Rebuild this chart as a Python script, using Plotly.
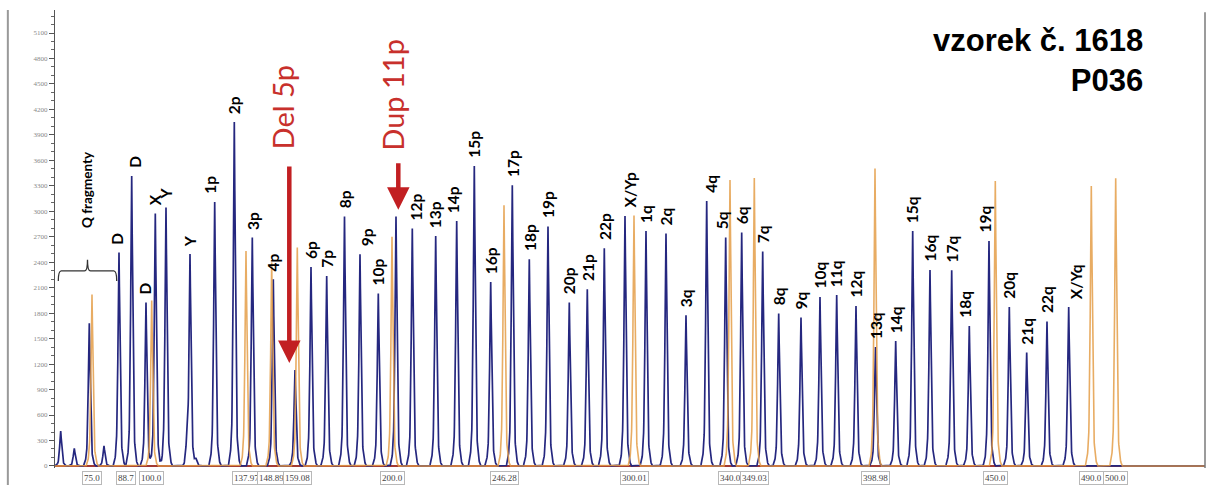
import numpy as np
import plotly.graph_objects as go

# ---------------- data ----------------
# Blue channel (sample probes): scan position, peak height (RFU), probe name
probe_pos = [5.7, 19.3, 34.3, 49.0, 64.0, 76.7, 91.0, 100.3, 111.0, 131.7, 135.0, 141.0,
             159.7, 179.3, 197.3, 218.3, 240.0, 256.0, 271.7, 289.5, 305.0, 323.3,
             341.0, 357.3, 380.7, 401.7, 419.3, 435.7, 457.3, 474.3, 493.0, 514.3,
             532.3, 549.3, 570.0,
             591.0, 611.0, 631.0, 651.7, 670.7, 686.7, 707.7, 723.7, 746.0, 765.0,
             781.7, 801.0, 820.5, 840.7, 857.7, 875.0, 896.7, 914.3, 934.0, 954.3,
             971.7, 992.0, 1013.7]
probe_height = [412, 208, 1680, 236, 2513, 3416, 1925, 2973, 3044, 220, 2482, 90,
                3110, 4052, 2690, 2199, 1131, 2344, 2238, 2937, 2493, 2030,
                2937, 2796, 2709, 2886, 3534, 2167, 3306, 2435, 2820, 1925,
                2081, 2564, 2945,
                2768, 2737, 1775, 3121, 2690, 2749, 2525, 1795, 1748, 1991,
                2014, 1885, 1400, 1472, 2768, 2309, 2305, 1649, 2650, 1873,
                1336, 1701, 1873]
probe_name = ["", "", "", "", "D", "D", "D", "X", "Y", "", "Y", "",
              "1p", "2p", "3p", "4p", "5p", "6p", "7p", "8p", "9p", "10p",
              "11p", "12p", "13p", "14p", "15p", "16p", "17p", "18p", "19p", "20p",
              "21p", "22p", "X/Yp",
              "1q", "2q", "3q", "4q", "5q", "6q", "7q", "8q", "9q", "10q",
              "11q", "12q", "13q", "14q", "15q", "16q", "17q", "18q", "19q", "20q",
              "21q", "22q", "X/Yq"]

# Orange channel (size standard): scan position, peak height, fragment size label
std_pos = [37.0, 71.0, 96.7, 191.0, 216.7, 242.3, 337.0, 449.0, 579.0,
           675.0, 699.3, 820.0, 940.3, 1036.3, 1060.7]
std_height = [2020, 0, 1950, 2533, 2396, 2572, 2700, 3071, 2950,
              3369, 3392, 3503, 3357, 3298, 3389]
std_label = ["75.0", "88.7", "100.0", "137.97", "148.89", "159.08", "200.0", "246.28",
             "300.01", "340.0", "349.03", "398.98", "450.0", "490.0", "500.0"]

y_ticks = list(range(0, 5101, 300))

# Marked aberrations
aberrations = {"5p": "Del 5p", "11p": "Dup 11p"}

# ---------------- styling helpers ----------------
X_MAX = 1150
grid = np.union1d(np.arange(0, X_MAX + 0.001, 0.2), np.array(probe_pos + std_pos))
prof_dx = [-6.0, -4.0, -2.6, -1.6, -0.8, 0.0, 0.8, 1.6, 2.6, 4.0, 6.0]
prof_f = [0.0, 0.03, 0.1, 0.3, 0.68, 1.0, 0.68, 0.3, 0.1, 0.03, 0.0]


def peaks_to_trace(pos, heights):
    y = np.zeros_like(grid)
    for p, h in zip(pos, heights):
        y += h * np.interp(grid - p, prof_dx, prof_f, left=0.0, right=0.0)
    return y


blue_y = peaks_to_trace(probe_pos, probe_height)
orange_y = peaks_to_trace(std_pos, std_height)

fig = go.Figure()
fig.add_trace(go.Scatter(x=grid, y=blue_y, mode="lines",
                         line=dict(color="#25277f", width=1.7), hoverinfo="skip"))
fig.add_trace(go.Scatter(x=grid, y=orange_y, mode="lines",
                         line=dict(color="rgba(228,158,72,0.85)", width=1.6), hoverinfo="skip"))

# label nudges (pixels) for crowded labels
nudge = {"1p": -5, "9p": 7, "12p": 4, "14p": -3, "X/Yp": 5, "4q": 4, "5q": -4,
         "18q": -4, "19q": -4, "X/Yq": 8}
seen_d = 0
annotations = []
for p, h, name in zip(probe_pos, probe_height, probe_name):
    if not name or name in aberrations:
        continue
    dx = nudge.get(name, 0)
    if name == "D":
        dx = [-2, 3, -1][seen_d]
        seen_d += 1
    annotations.append(dict(x=p, y=h, text=name, showarrow=False, textangle=-90,
                            xanchor="center", yanchor="bottom", yshift=6, xshift=dx,
                            font=dict(family="Lato", size=15.5, color="black", weight="bold")))

# aberration arrows + texts
arrow_cfg = {"5p": dict(dx=-5.7, shaft=198, tdx=-13, tshift=218),
             "11p": dict(dx=2.3, shaft=48, tdx=-3, tshift=64)}
for p, h, name in zip(probe_pos, probe_height, probe_name):
    if name in aberrations:
        c = arrow_cfg[name]
        annotations.append(dict(x=p, y=h, xshift=c["dx"], yshift=7, text="", showarrow=True,
                                ax=0, ay=-c["shaft"], arrowhead=2, arrowsize=1.0,
                                arrowwidth=4.5, arrowcolor="#c21f22"))
        annotations.append(dict(x=p, y=h, text=aberrations[name], showarrow=False,
                                textangle=-90, xanchor="center", yanchor="bottom",
                                xshift=c["tdx"], yshift=c["tshift"],
                                font=dict(family="Lato", size=29, color="#c8302c")))

# size-standard boxed labels below the baseline
for p, lab in zip(std_pos, std_label):
    annotations.append(dict(x=p, y=-0.022, yref="paper", text=lab, showarrow=False,
                            xanchor="center", yanchor="middle",
                            font=dict(family="Liberation Serif", size=9, color="#444"),
                            bordercolor="#b8b8b8", borderwidth=1, borderpad=1,
                            bgcolor="white"))

# Q fragments bracket + label
q_left = probe_pos[0] - 2.4
q_right = probe_pos[4] - 2.3
q_mid = (q_left + q_right) / 2
by, bdrop, bhook = 2297, 2180, 2430
bracket = (f"M {q_left},{bdrop} Q {q_left},{by} {q_left+3},{by} L {q_mid-3},{by} "
           f"Q {q_mid},{by} {q_mid},{bhook} Q {q_mid},{by} {q_mid+3},{by} "
           f"L {q_right-3},{by} Q {q_right},{by} {q_right},{bdrop}")
annotations.append(dict(x=q_mid, y=2780, text="Q fragmenty", showarrow=False, textangle=-90,
                        xanchor="center", yanchor="bottom",
                        font=dict(family="Lato", size=13.5, color="black", weight="bold")))

# sample title
annotations.append(dict(x=0.948, y=0.975, xref="paper", yref="paper",
                        text="vzorek č. 1618<br>P036", showarrow=False, align="right",
                        xanchor="right", yanchor="top",
                        font=dict(family="Liberation Sans", size=31, color="black",
                                  weight="bold")))

shapes = [
    dict(type="path", path=bracket, xref="x", yref="y",
         line=dict(color="#333", width=1.3)),
    dict(type="line", xref="paper", yref="paper", x0=1, x1=1, y0=0, y1=0.995,
         line=dict(color="#7a7a7a", width=1.5)),
    dict(type="line", xref="paper", yref="paper", x0=-0.041, x1=-0.041, y0=-0.04, y1=1.0,
         line=dict(color="#999", width=2)),
]

fig.update_layout(
    width=1213, height=485, autosize=False,
    margin=dict(l=55, r=8, t=10, b=17),
    paper_bgcolor="white", plot_bgcolor="white",
    showlegend=False,
    annotations=annotations, shapes=shapes,
    xaxis=dict(range=[0, X_MAX], showgrid=False, showticklabels=False, ticks="",
               zeroline=False, showline=False, fixedrange=True, automargin=False),
    yaxis=dict(range=[-24, 5371], tickvals=y_ticks, showgrid=False,
               zeroline=True, zerolinecolor="#a23a32", zerolinewidth=1.5,
               showline=True, linecolor="#555", linewidth=1,
               ticks="outside", ticklen=5, tickcolor="#555",
               tickfont=dict(family="Liberation Serif", size=7, color="#888"),
               minor=dict(dtick=100, tick0=0, ticks="outside", ticklen=3, tickcolor="#666"),
               fixedrange=True, automargin=False),
)

fig.write_html("out.html", config={"displayModeBar": False},
               post_script="document.body.style.margin='0px';")
